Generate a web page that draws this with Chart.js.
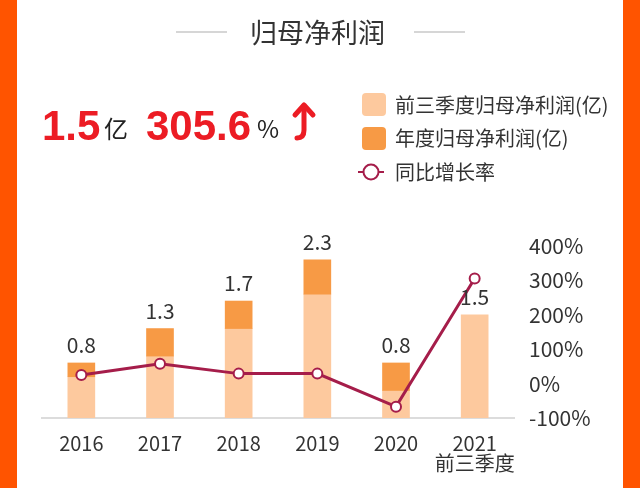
<!DOCTYPE html>
<html>
<head>
<meta charset="utf-8">
<script src="https://cdn.jsdelivr.net/npm/chart.js@4.4.0/dist/chart.umd.min.js"></script>
<style>
  body { margin: 0; width: 640px; height: 488px; overflow: hidden; background: #fff;
         font-family: 'Noto Sans CJK SC', 'Noto Sans', sans-serif; color: #333; }
  #wrap { position: relative; width: 640px; height: 488px; }
  #myChart { position: absolute; left: 0; top: 0; }
  .strip { position: absolute; top: 0; height: 488px; background: #ff5400; }
  .abs { position: absolute; white-space: nowrap; }
  .hline { position: absolute; height: 2px; background: #d6d6d6; }
  .big { color: #ec1c24; font-family: 'Liberation Sans', Arial, sans-serif; font-weight: bold; font-size: 42px; }
  .sq { position: absolute; width: 24px; height: 23px; border-radius: 4px; }
  .lg { position: absolute; font-size: 20px; color: #333; line-height: 20px; }
</style>
</head>
<body>
<div id="wrap">
  <canvas id="myChart" width="640" height="488"></canvas>

  <div class="strip" style="left:0;width:17px"></div>
  <div class="strip" style="left:623px;width:17px"></div>

  <!-- titulo -->
  <div class="hline" style="left:176px;top:31px;width:51px"></div>
  <div class="hline" style="left:414px;top:31px;width:51px"></div>
  <div class="abs" style="left:250px;top:14px;font-size:27px;line-height:36px;color:#333">归母净利润</div>

  <!-- cifras grandes -->
  <div class="abs big" style="left:42px;top:102px;line-height:48px">1.5</div>
  <div class="abs" style="left:104px;top:110px;font-size:24px;line-height:36px;color:#222">亿</div>
  <div class="abs big" style="left:146px;top:102px;line-height:48px">305.6</div>
  <div class="abs" style="left:257px;top:110px;font-size:24px;line-height:36px;color:#222">%</div>
  <svg class="abs" style="left:290px;top:100px" width="30" height="44">
    <path d="M14 6 L14 30 Q14 38 7 38" stroke="#ec1c24" stroke-width="5" fill="none" stroke-linecap="round"/>
    <path d="M5 15 L14 5 L23 15" stroke="#ec1c24" stroke-width="5" fill="none" stroke-linecap="round" stroke-linejoin="round"/>
  </svg>

  <!-- leyenda -->
  <div class="sq" style="left:362px;top:93px;background:#fdc99e"></div>
  <div class="lg" style="left:395px;top:95px">前三季度归母净利润(亿)</div>
  <div class="sq" style="left:362px;top:127px;background:#f79a45"></div>
  <div class="lg" style="left:395px;top:128px">年度归母净利润(亿)</div>
  <svg class="abs" style="left:358px;top:162px" width="26" height="20">
    <line x1="0" y1="10" x2="26" y2="10" stroke="#a51d4a" stroke-width="2"/>
    <circle cx="13" cy="10" r="7.5" fill="#fff" stroke="#a51d4a" stroke-width="2"/>
  </svg>
  <div class="lg" style="left:395px;top:162px">同比增长率</div>
</div>

<script>
// Datos
const years = ['2016', '2017', '2018', '2019', '2020', ['2021', '前三季度']];
const q3Profit = [0.6, 0.9, 1.3, 1.8, 0.4, 1.5];          // 前三季度
const annualProfit = [0.8, 1.3, 1.7, 2.3, 0.8, null];     // 年度
const barLabels = ['0.8', '1.3', '1.7', '2.3', '0.8', '1.5'];
const growthRate = [25, 58, 29, 29, -67, 305.6];         // 同比增长率 %
const rateTicks = [-100, 0, 100, 200, 300, 400];

Chart.defaults.font.family = "'Noto Sans CJK SC', 'Noto Sans', sans-serif";
Chart.defaults.color = '#333';

// etiquetas encima de las barras
const topLabels = {
  id: 'topLabels',
  afterDatasetsDraw(chart) {
    const ctx = chart.ctx;
    const yScale = chart.scales.y;
    const xScale = chart.scales.x;
    ctx.save();
    ctx.font = "21px 'Noto Sans CJK SC', sans-serif";
    ctx.fillStyle = '#333';
    ctx.textAlign = 'center';
    ctx.textBaseline = 'alphabetic';
    barLabels.forEach((txt, i) => {
      const v = annualProfit[i] != null ? annualProfit[i] : q3Profit[i];
      ctx.fillText(txt, xScale.getPixelForValue(i), yScale.getPixelForValue(v) - 10);
    });
    ctx.restore();
  }
};

new Chart(document.getElementById('myChart'), {
  data: {
    labels: years,
    datasets: [
      {
        type: 'line',
        label: '同比增长率',
        data: growthRate,
        yAxisID: 'y1',
        borderColor: '#a51d4a',
        borderWidth: 3,
        pointRadius: 5,
        pointBorderWidth: 2,
        pointBackgroundColor: '#fff',
        pointBorderColor: '#a51d4a',
        tension: 0,
        order: 0
      },
      {
        type: 'bar',
        label: '前三季度归母净利润(亿)',
        data: q3Profit,
        yAxisID: 'y',
        backgroundColor: '#fdc99e',
        barThickness: 27,
        order: 2
      },
      {
        type: 'bar',
        label: '年度归母净利润(亿)',
        data: annualProfit.map((v, i) => v == null ? null : [q3Profit[i], v]),
        yAxisID: 'y',
        backgroundColor: '#f79a45',
        barThickness: 27,
        order: 1
      }
    ]
  },
  options: {
    responsive: false,
    animation: false,
    layout: { padding: { left: 42, top: 246, right: 0, bottom: 0 } },
    plugins: { legend: { display: false }, tooltip: { enabled: false } },
    scales: {
      x: {
        stacked: true,
        grid: { display: false, drawTicks: false },
        border: { display: true, color: '#dcdcdc', width: 2 },
        ticks: {
          padding: 15, color: '#333', font: { size: 20, lineHeight: 1.0 },
          autoSkip: false, maxRotation: 0, minRotation: 0
        },
        afterFit(scale) { scale.height = 70; }
      },
      y: {
        display: false,
        min: 0,
        max: 2.5
      },
      y1: {
        position: 'right',
        min: -100,
        max: 400,
        grid: { display: false, drawTicks: false },
        border: { display: false },
        afterBuildTicks(scale) { scale.ticks = rateTicks.map(v => ({ value: v })); },
        ticks: {
          padding: 15,
          color: '#333',
          font: { size: 21 },
          callback: v => v + '%'
        },
        afterFit(scale) { scale.width = 126; }
      }
    }
  },
  plugins: [topLabels]
});
</script>
</body>
</html>
